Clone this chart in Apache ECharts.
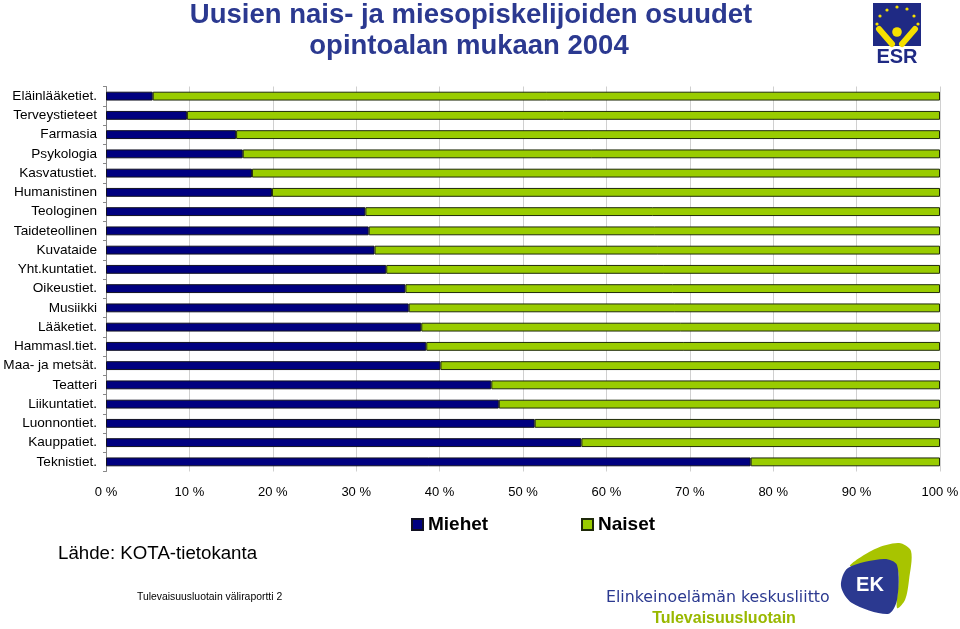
<!DOCTYPE html>
<html>
<head>
<meta charset="utf-8">
<script src="https://cdn.jsdelivr.net/npm/echarts@6/dist/echarts.min.js"></script>
<style>
html,body{margin:0;padding:0;background:#fff;}
#chart{width:960px;height:629px;}
</style>
</head>
<body>
<div id="chart"></div>
<script>
const categories = ["Eläinlääketiet.","Terveystieteet","Farmasia","Psykologia","Kasvatustiet.","Humanistinen","Teologinen","Taideteollinen","Kuvataide","Yht.kuntatiet.","Oikeustiet.","Musiikki","Lääketiet.","Hammasl.tiet.","Maa- ja metsät.","Teatteri","Liikuntatiet.","Luonnontiet.","Kauppatiet.","Teknistiet."];
const miehet = [5.6, 9.7, 15.6, 16.4, 17.5, 19.9, 31.1, 31.5, 32.2, 33.6, 35.9, 36.3, 37.8, 38.4, 40.1, 46.2, 47.1, 51.4, 57.0, 77.3];
const naiset = [94.4, 90.3, 84.4, 83.6, 82.5, 80.1, 68.9, 68.5, 67.8, 66.4, 64.1, 63.7, 62.2, 61.6, 59.9, 53.8, 52.9, 48.6, 43.0, 22.7];
const xTicks = [0,10,20,30,40,50,60,70,80,90,100];
const seriesNames = ["Miehet","Naiset"];
const titleLines = ["Uusien nais- ja miesopiskelijoiden osuudet","opintoalan mukaan 2004"];

const FONT = '"Liberation Sans", Arial, sans-serif';
const chart = echarts.init(document.getElementById('chart'), null, {renderer:'canvas'});

const stars = [[877,24],[880,16],[887,10],[897,7],[907,9],[914,16],[918,24]];

chart.setOption({
  animation:false,
  backgroundColor:'#fff',
  textStyle:{fontFamily:FONT},
  grid:{left:106, width:834, top:86.5, height:385, containLabel:false, outerBoundsMode:'none'},
  xAxis:{
    type:'value', min:xTicks[0], max:xTicks[xTicks.length-1], interval:10,
    axisLine:{show:false}, axisTick:{show:false},
    splitLine:{show:true, lineStyle:{color:'#d0d0d0', width:1}},
    axisLabel:{formatter:'{value} %', color:'#000', fontSize:13, margin:14, fontFamily:FONT}
  },
  yAxis:{
    type:'category', data:categories, inverse:true,
    axisLine:{show:true, lineStyle:{color:'#888', width:1}},
    axisTick:{show:true, length:3, lineStyle:{color:'#888'}},
    axisLabel:{color:'#000', fontSize:13.6, margin:9, fontFamily:FONT}
  },
  legend:[
    {data:[seriesNames[0]], left:406, top:510, itemWidth:11, itemHeight:11, icon:'rect', itemGap:6,
     textStyle:{fontSize:19, fontWeight:'bold', color:'#000', fontFamily:FONT}},
    {data:[seriesNames[1]], left:576, top:510, itemWidth:11, itemHeight:11, icon:'rect', itemGap:6,
     textStyle:{fontSize:19, fontWeight:'bold', color:'#000', fontFamily:FONT}}
  ],
  series:[
    {name:seriesNames[0], type:'bar', stack:'s', data:miehet, barWidth:'46%',
     itemStyle:{color:'#000080', borderColor:'#111122', borderWidth:1}},
    {name:seriesNames[1], type:'bar', stack:'s', data:naiset, barWidth:'46%',
     itemStyle:{color:'#99CC00', borderColor:'#1f2a0a', borderWidth:1}}
  ],
  graphic:[
    {type:'text', x:471, y:15, style:{text:titleLines[0], fill:'#2B3990', font:'bold 27.5px '+FONT, align:'center', verticalAlign:'middle'}},
    {type:'text', x:469, y:46, style:{text:titleLines[1], fill:'#2B3990', font:'bold 27.5px '+FONT, align:'center', verticalAlign:'middle'}},
    {type:'text', x:58, y:554, style:{text:'Lähde: KOTA-tietokanta', fill:'#000', font:'18.7px '+FONT, verticalAlign:'middle'}},
    {type:'text', x:137, y:597, style:{text:'Tulevaisuusluotain väliraportti 2', fill:'#000', font:'10.4px '+FONT, verticalAlign:'middle'}},
    {type:'text', x:606, y:598, style:{text:'Elinkeinoelämän keskusliitto', fill:'#2B3990', font:'15.8px "DejaVu Sans", '+FONT, verticalAlign:'middle'}},
    {type:'text', x:724, y:619, style:{text:'Tulevaisuusluotain', fill:'#99B800', font:'bold 16px '+FONT, align:'center', verticalAlign:'middle'}},
    // ESR logo
    {type:'rect', shape:{x:873, y:3, width:48, height:43}, style:{fill:'#1F2A84'}},
    {type:'group', children: stars.map(s => ({type:'circle', shape:{cx:s[0], cy:s[1], r:1.6}, style:{fill:'#F5E000'}}))},
    {type:'circle', shape:{cx:897, cy:32, r:4.8}, style:{fill:'#F5E000'}},
    {type:'line', shape:{x1:879, y1:29, x2:892, y2:44}, style:{stroke:'#F5E000', lineWidth:6, lineCap:'round'}},
    {type:'line', shape:{x1:915, y1:29, x2:902, y2:44}, style:{stroke:'#F5E000', lineWidth:6, lineCap:'round'}},
    {type:'text', x:897, y:57, style:{text:'ESR', fill:'#1F2A84', font:'bold 20px '+FONT, align:'center', verticalAlign:'middle'}},
    // EK logo
    {type:'polygon', shape:{points:[[850,566],[875,549],[899,543],[911,551],[909,580],[905,600],[897,608],[898,571],[885,561]], smooth:0.3}, style:{fill:'#A8C400'}},
    {type:'polygon', shape:{points:[[841,586],[848,568],[884,559],[897,565],[897,600],[888,614],[852,603]], smooth:0.3}, style:{fill:'#2B3990'}},
    {type:'text', x:870, y:585, style:{text:'EK', fill:'#fff', font:'bold 20px '+FONT, align:'center', verticalAlign:'middle'}}
  ]
});
</script>
</body>
</html>
